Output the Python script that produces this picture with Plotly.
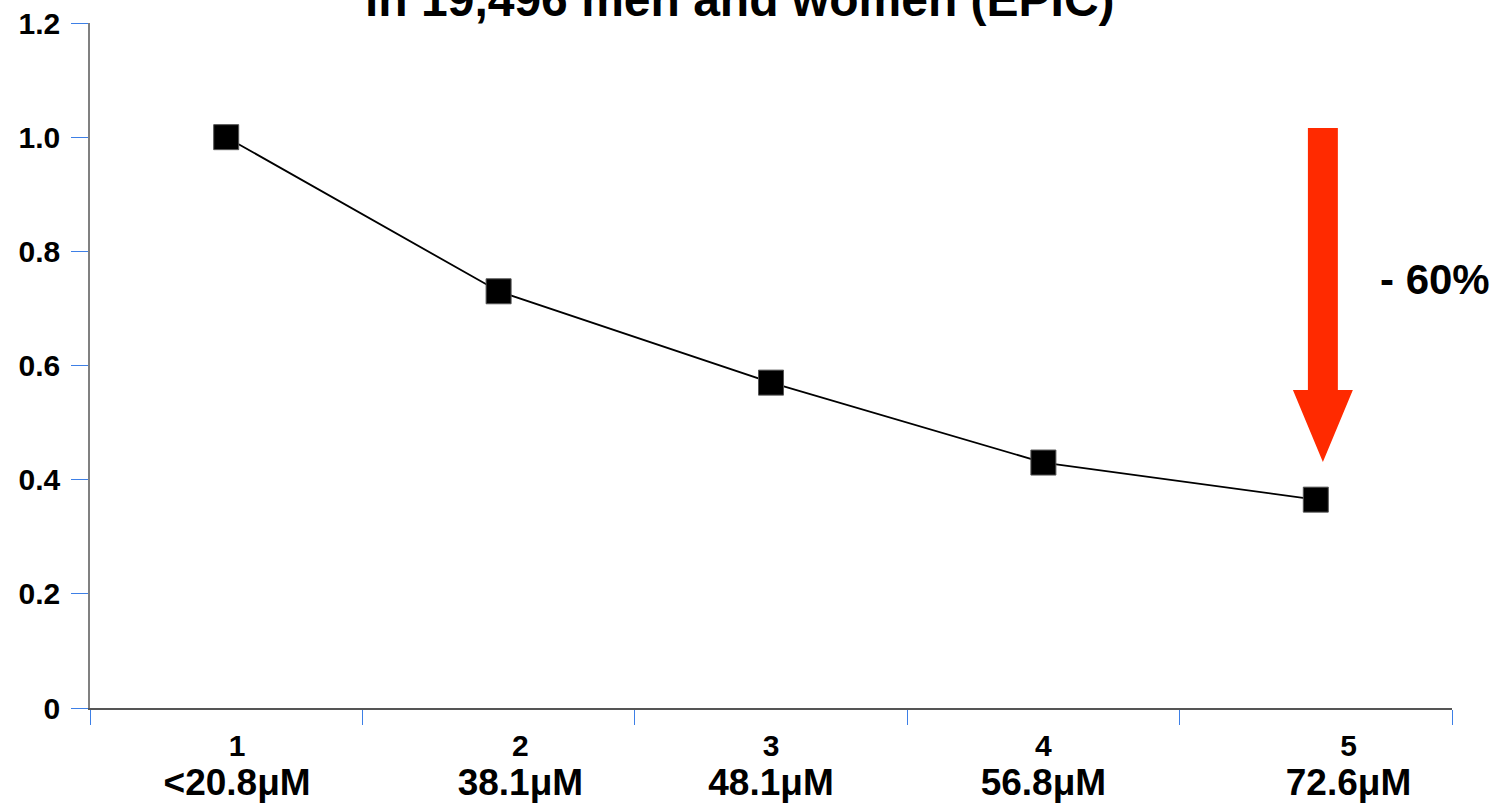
import plotly.graph_objects as go

# Quintiles of plasma vitamin C and relative risk of all-cause mortality
quintiles = [1, 2, 3, 4, 5]
concentrations = ["<20.8μM", "38.1μM", "48.1μM", "56.8μM", "72.6μM"]
relative_risk = [1.0, 0.73, 0.57, 0.43, 0.365]
y_ticks = [0, 0.2, 0.4, 0.6, 0.8, 1.0, 1.2]
y_tick_text = ["0", "0.2", "0.4", "0.6", "0.8", "1.0", "1.2"]
reduction_label = "- 60%"
title_text = "in 19,496 men and women (EPIC)"

FONT = "Liberation Sans, Arial, sans-serif"
TICK_BLUE = "#3d7fe6"
ARROW_RED = "#ff2a00"

# Category labels sit slightly off the category centres
label_shift = [0.04, 0.08, 0.0, 0.0, 0.12]
label_pos = [q + s for q, s in zip(quintiles, label_shift)]

x_labels = [
    f"{q}<br><span style='font-size:37px'>{c.replace('<', '&lt;')}</span>"
    for q, c in zip(quintiles, concentrations)
]

fig = go.Figure()
fig.add_trace(go.Scatter(
    x=quintiles, y=relative_risk, mode="lines+markers",
    line=dict(color="black", width=1.8),
    marker=dict(symbol="square", size=25, color="black",
                line=dict(color="#555555", width=1)),
    showlegend=False, hoverinfo="skip",
))

# Block arrow from the reference level down to the top quintile
ax = quintiles[-1] + 0.026
shaft_hw, head_hw = 0.055, 0.11
y_top = relative_risk[0] + 0.016
y_tip = relative_risk[-1] + 0.066
y_neck = y_tip + 0.126
arrow_path = (
    f"M {ax - shaft_hw},{y_top} L {ax + shaft_hw},{y_top} "
    f"L {ax + shaft_hw},{y_neck} L {ax + head_hw},{y_neck} "
    f"L {ax},{y_tip} L {ax - head_hw},{y_neck} "
    f"L {ax - shaft_hw},{y_neck} Z"
)
fig.add_shape(type="path", xref="x", yref="y", path=arrow_path,
              fillcolor=ARROW_RED, line=dict(width=0))

fig.add_annotation(
    text=f"<b>{reduction_label}</b>", xref="paper", yref="paper",
    x=0.9875, y=0.625, xanchor="center", yanchor="middle",
    showarrow=False, font=dict(family=FONT, size=42, color="black"),
)

fig.add_annotation(
    text=f"<b>{title_text}</b>", xref="paper", yref="paper",
    x=0.477, y=0.993, xanchor="center", yanchor="bottom",
    showarrow=False, font=dict(family=FONT, size=48, color="black"),
)

fig.update_layout(
    template="none",
    width=1494, height=807,
    margin=dict(l=90, r=42, t=23, b=99, autoexpand=False),
    paper_bgcolor="white", plot_bgcolor="white",
    font=dict(family=FONT, color="black"),
    xaxis=dict(
        range=[0.5, 5.5], showgrid=False, zeroline=False, automargin=False,
        showline=True, linecolor="#555555", linewidth=1.5,
        tickmode="array", tickvals=label_pos, ticktext=x_labels,
        ticks="", ticklabelstandoff=10,
        tickfont=dict(family=FONT, size=30, color="black", weight="bold"),
        minor=dict(tickmode="array", tickvals=[q - 0.5 for q in quintiles] + [quintiles[-1] + 0.5],
                   ticks="outside", ticklen=15, tickwidth=1.2, tickcolor=TICK_BLUE, showgrid=False),
    ),
    yaxis=dict(
        range=[0, 1.2], showgrid=False, zeroline=False, automargin=False,
        showline=True, linecolor="#808080", linewidth=1.5,
        tickmode="array", tickvals=y_ticks, ticktext=y_tick_text,
        ticks="outside", ticklen=17, tickwidth=1.2, tickcolor=TICK_BLUE,
        ticklabelstandoff=5,
        tickfont=dict(family=FONT, size=30, color="black", weight="bold"),
    ),
)

fig.write_html("out.html")
